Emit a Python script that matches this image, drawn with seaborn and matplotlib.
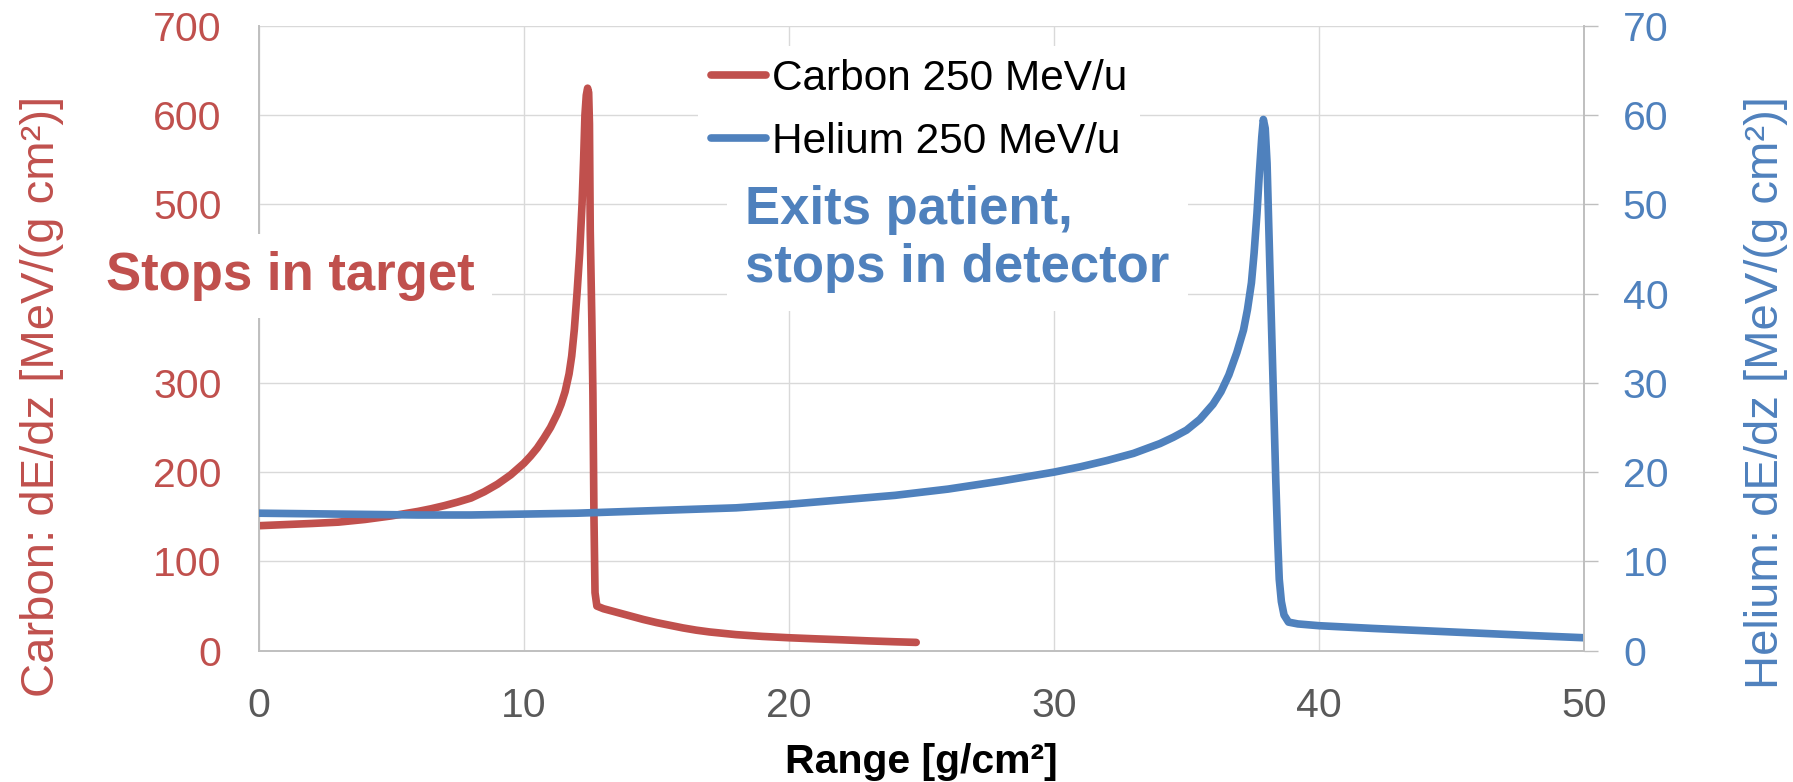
import matplotlib
matplotlib.use("Agg")
import matplotlib.pyplot as plt
import seaborn as sns
import pandas as pd

# Stopping power vs. depth (left axis: carbon, right axis: helium)
carbon_range = [0, 2, 3, 4, 5, 6, 6.5, 7, 7.5, 8, 8.5, 9, 9.5, 10, 10.25, 10.5,
                10.75, 11, 11.25, 11.4, 11.55, 11.7, 11.8, 11.9, 12.0, 12.1,
                12.19, 12.25, 12.3, 12.35, 12.4, 12.44, 12.47, 12.5, 12.56,
                12.6, 12.64, 12.68, 12.75, 13, 13.5, 14, 14.5, 15, 15.5, 16,
                16.5, 17, 17.5, 18, 19, 20, 21, 22, 23, 24, 24.8]
carbon_dedz = [140, 142.5, 144, 147, 151, 156, 159, 162.5, 166.5, 171, 178, 186.5,
               197, 210, 218, 227, 238, 250, 265, 276, 290, 310, 330, 360, 400,
               445, 500, 550, 600, 622, 630, 625, 590, 470, 370, 288, 150, 65,
               50, 47, 43, 39, 35, 31.5, 28.5, 25.5, 23, 21, 19.5, 18, 16, 14.5,
               13.3, 12.2, 11, 10, 9.3]

helium_range = [0, 3, 6, 8, 10, 12, 14, 16, 18, 20, 22, 24, 26, 28, 30, 31, 32, 33,
                34, 34.5, 35, 35.5, 36, 36.3, 36.6, 36.9, 37.15, 37.3, 37.45,
                37.55, 37.66, 37.75, 37.84, 37.9, 37.97, 38.04, 38.1, 38.16,
                38.23, 38.3, 38.37, 38.44, 38.5, 38.58, 38.68, 38.85, 39.2, 40,
                42, 45, 48, 50]
helium_dedz = [15.4, 15.3, 15.2, 15.2, 15.3, 15.4, 15.6, 15.8, 16.0, 16.4, 16.9,
               17.4, 18.1, 19.0, 20.0, 20.6, 21.3, 22.1, 23.2, 23.9, 24.7, 25.9,
               27.6, 29.0, 30.9, 33.4, 35.9, 38.2, 41.2, 44.5, 49.0, 53.5, 57.5,
               59.5, 58.5, 54.6, 48.0, 41.5, 34.0, 26.5, 19.0, 12.5, 8.0, 5.5,
               4.0, 3.2, 3.0, 2.8, 2.5, 2.1, 1.7, 1.45]

x_ticks = [0, 10, 20, 30, 40, 50]
carbon_ticks = [0, 100, 200, 300, 400, 500, 600, 700]
# the 400 label sits behind the "Stops in target" note
carbon_tick_labels = ["0", "100", "200", "300", "", "500", "600", "700"]
helium_ticks = [0, 10, 20, 30, 40, 50, 60, 70]

series_labels = ["Carbon 250 MeV/u", "Helium 250 MeV/u"]

RED = "#C0504D"
BLUE = "#4F81BD"
GRID = "#D9D9D9"
SPINE = "#BFBFBF"
TICK_GRAY = "#595959"

sns.set_theme(style="white")
plt.rcParams["font.family"] = ["Liberation Sans", "DejaVu Sans"]

W, H = 1793, 782
fig = plt.figure(figsize=(W / 100, H / 100), dpi=100)
fig.patch.set_facecolor("white")

left_px, right_px, top_px, bottom_px = 259, 1584, 25.7, 650.7
ax = fig.add_axes([left_px / W, 1 - bottom_px / H,
                   (right_px - left_px) / W, (bottom_px - top_px) / H])
ax2 = ax.twinx()

carbon_df = pd.DataFrame({"range": carbon_range, "dedz": carbon_dedz})
helium_df = pd.DataFrame({"range": helium_range, "dedz": helium_dedz})

lw = 5.5
sns.lineplot(data=carbon_df, x="range", y="dedz", ax=ax, color=RED, lw=lw,
             estimator=None, sort=False, legend=False,
             solid_capstyle="round", solid_joinstyle="round")
sns.lineplot(data=helium_df, x="range", y="dedz", ax=ax2, color=BLUE, lw=lw,
             estimator=None, sort=False, legend=False,
             solid_capstyle="round", solid_joinstyle="round")

ax.set_xlim(0, 50)
ax.set_ylim(0, 700)
ax2.set_ylim(0, 70)
ax.set_xticks(x_ticks)
ax.set_yticks(carbon_ticks)
ax.set_yticklabels(carbon_tick_labels)
ax2.set_yticks(helium_ticks)
ax.set_xlabel("")
ax.set_ylabel("")
ax2.set_ylabel("")

ax.grid(True, color=GRID, lw=1.0, zorder=0)
ax.set_axisbelow(True)
ax2.grid(False)

for name in ["top", "right"]:
    ax.spines[name].set_visible(False)
for name in ["left", "bottom"]:
    ax.spines[name].set_color(SPINE)
    ax.spines[name].set_linewidth(1.4)
for name in ["top", "left", "bottom"]:
    ax2.spines[name].set_visible(False)
ax2.spines["right"].set_color(SPINE)
ax2.spines["right"].set_linewidth(1.4)

tick_fs = 29.5
ax.tick_params(axis="y", length=0, pad=27, labelsize=tick_fs, labelcolor=RED)
ax.tick_params(axis="x", length=0, pad=26, labelsize=tick_fs, labelcolor=TICK_GRAY)
ax2.tick_params(axis="y", direction="out", length=10, width=1.0, color=SPINE,
                pad=18, labelsize=tick_fs, labelcolor=BLUE)

# Axis titles
fig.text(42 / W, 1 - 396 / H, "Carbon: dE/dz [MeV/(g cm²)]", rotation=90,
         ha="center", va="center", fontsize=34, color=RED)
fig.text(1766 / W, 1 - 393 / H, "Helium: dE/dz [MeV/(g cm²)]", rotation=90,
         ha="center", va="center", fontsize=34, color=BLUE)
fig.text((left_px + right_px) / 2 / W, 1 - 773 / H, "Range [g/cm²]",
         ha="center", va="baseline", fontsize=29.5, fontweight="bold",
         color="black")

# Annotations
fig.text(106 / W, 1 - 290 / H, "Stops in target", ha="left", va="baseline",
         fontsize=38, fontweight="bold", color=RED,
         bbox=dict(boxstyle="square,pad=0.33", fc="white", ec="none"))
fig.text(745 / W, 1 - 282 / H, "Exits patient,\nstops in detector",
         ha="left", va="baseline", fontsize=38, fontweight="bold", color=BLUE,
         linespacing=1.2,
         bbox=dict(boxstyle="square,pad=0.35", fc="white", ec="none"))

# Legend
handles = [ax.get_lines()[0], ax2.get_lines()[0]]
leg = fig.legend(handles, series_labels, loc="upper left",
                 bbox_to_anchor=(698 / W, 1 - 46 / H),
                 bbox_transform=fig.transFigure,
                 fontsize=30.5, frameon=True, fancybox=False,
                 borderpad=0.3, handlelength=1.3, handletextpad=0.15,
                 labelspacing=0.55, borderaxespad=0)
leg.get_frame().set_facecolor("white")
leg.get_frame().set_edgecolor("none")
leg.get_frame().set_alpha(1)
for t in leg.get_texts():
    t.set_color("black")

fig.savefig("out.png", dpi=100, facecolor="white")
